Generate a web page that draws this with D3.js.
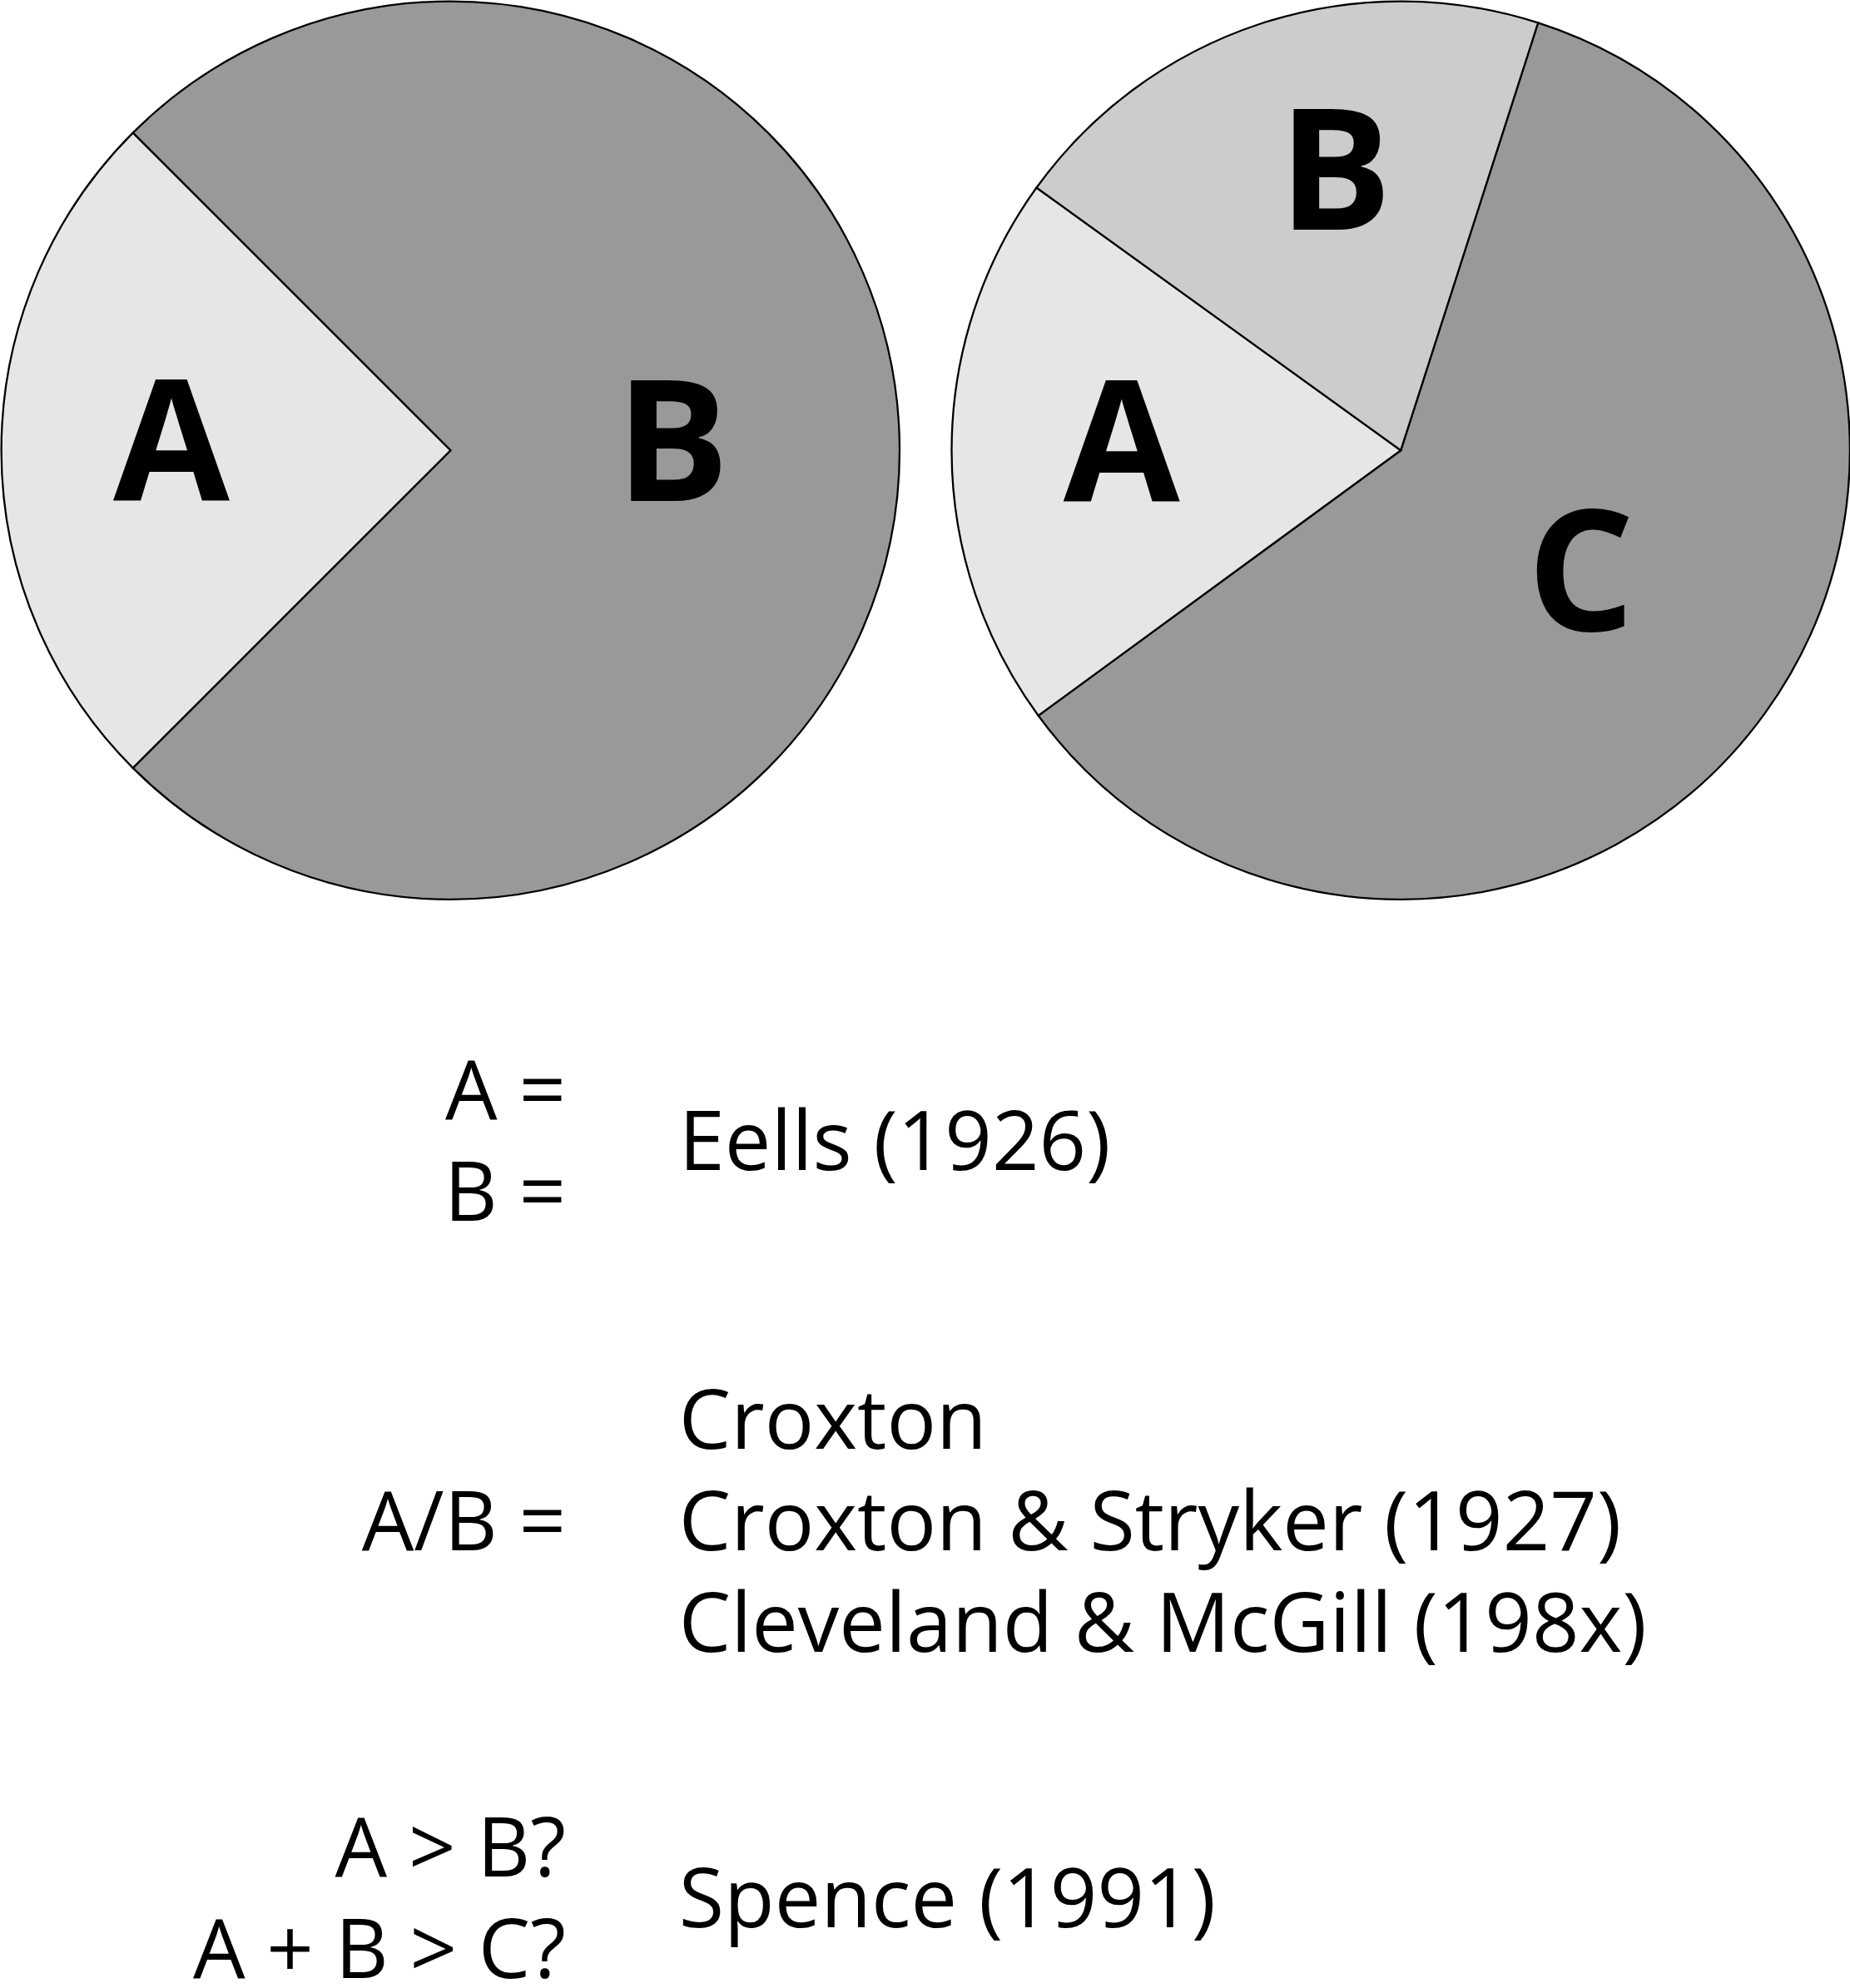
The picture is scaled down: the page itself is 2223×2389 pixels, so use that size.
<!DOCTYPE html>
<html><head><meta charset="utf-8">
<script src="https://cdn.jsdelivr.net/npm/d3@7"></script>
<style>body{margin:0;background:#fff}text{font-family:"Open Sans",sans-serif}</style>
</head><body>
<script>
// pie 1: Eells example
let pie1Labels = ["B", "A"],
    pie1Values = [75, 25],
    pie1Colors = ["#999999", "#e6e6e6"];
// pie 2: three parts
let pie2Labels = ["C", "A", "B"],
    pie2Values = [60, 20, 20],
    pie2Colors = ["#999999", "#e6e6e6", "#cccccc"];

let notes = [
    {left: ["A =", "B ="], right: ["Eells (1926)"], y: 898},
    {left: ["A/B ="], right: ["Croxton", "Croxton & Stryker (1927)", "Cleveland & McGill (198x)"], y: 1198},
    {left: ["A > B?", "A + B > C?"], right: ["Spence (1991)"], y: 1495}
];

let svg = d3.select('body').append('svg')
    .attr('width', 2223).attr('height', 2389)
    .attr('viewBox', '0 0 1458 1567');

let r = 354;
let arc = d3.arc().innerRadius(0).outerRadius(r);

function drawPie(cx, cy, labels, values, colors, start) {
    let pie = d3.pie().sort(null).startAngle(start).endAngle(start + 2 * Math.PI);
    let arcs = pie(values);
    let g = svg.append('g').attr('transform', `translate(${cx},${cy})`);
    g.selectAll('path').data(arcs).enter().append('path')
        .attr('d', arc)
        .attr('fill', (d, i) => colors[i])
        .attr('stroke', '#000').attr('stroke-width', 1.5);
    g.selectAll('text').data(arcs).enter().append('text')
        .attr('transform', d => {
            let lr = d.data > 50 ? 175 : 220;
            let a = (d.startAngle + d.endAngle) / 2;
            if (d.data <= 50 && Math.abs(Math.sin(a)) < 0.9) a += 0.08;
            return `translate(${lr * Math.sin(a)},${-lr * Math.cos(a)})`;
        })
        .attr('text-anchor', 'middle').attr('dy', '0.3em')
        .attr('font-size', 133).attr('font-weight', 'bold')
        .text((d, i) => labels[i]);
}

drawPie(355, 355, pie1Labels, pie1Values, pie1Colors, -Math.PI / 4);
drawPie(1104, 355, pie2Labels, pie2Values, pie2Colors, 17.8 * Math.PI / 180);

let lh = 80;
notes.forEach(n => {
    n.left.forEach((t, i) => {
        svg.append('text').attr('x', 446)
            .attr('y', n.y + (i - (n.left.length - 1) / 2) * lh + 24)
            .attr('text-anchor', 'end').attr('font-size', 65).attr('font-weight', 500).text(t);
    });
    n.right.forEach((t, i) => {
        svg.append('text').attr('x', 535)
            .attr('y', n.y + (i - (n.right.length - 1) / 2) * lh + 24)
            .attr('font-size', 65).attr('font-weight', 500).text(t);
    });
});
</script>
</body></html>
